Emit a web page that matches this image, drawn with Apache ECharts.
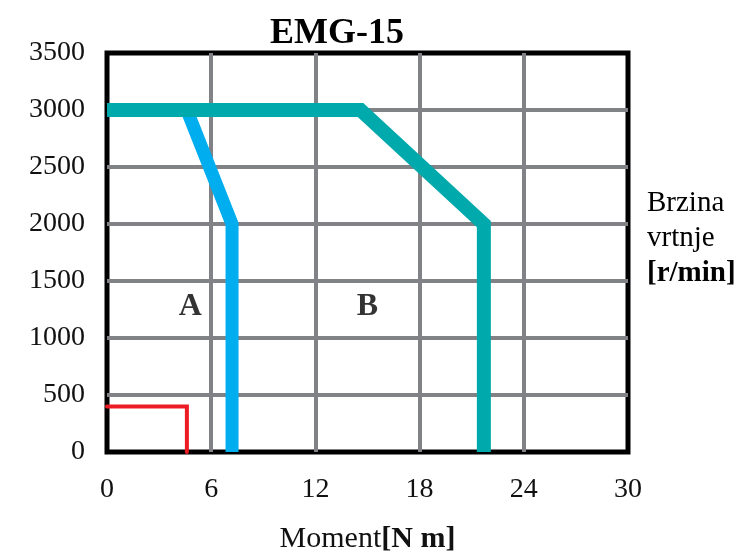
<!DOCTYPE html>
<html>
<head>
<meta charset="utf-8">
<script src="https://cdn.jsdelivr.net/npm/echarts@6/dist/echarts.min.js"></script>
<style>
  html, body { margin: 0; padding: 0; background: #fff; }
  #chart { width: 742px; height: 554px; }
</style>
</head>
<body>
<div id="chart"></div>
<script>
  // podaci ocitani sa slike
  var xTicks = [0, 6, 12, 18, 24, 30]
  var yTicks = [0, 500, 1000, 1500, 2000, 2500, 3000, 3500]
  var curveB = [[0, 3000], [14.6, 3000], [21.7, 2000], [21.7, 0]]
  var curveA = [[4.6, 3000], [7.2, 2000], [7.2, 0]]
  var curveRed = [[0, 400], [4.6, 400], [4.6, 0]]
  var regionLabels = [['A', 4.8, 1270], ['B', 15, 1270]]

  var serif = '"Liberation Serif", "DejaVu Serif", serif'
  var myChart = echarts.init(document.getElementById('chart'))

  var option = {
    animation: false,
    title: {
      text: 'EMG-15',
      left: 265,
      top: 11,
      textStyle: { fontFamily: serif, fontSize: 36, fontWeight: 'bold', color: '#000' }
    },
    grid: {
      left: 107, right: 114, top: 53, bottom: 102,
      outerBoundsMode: 'none',
      containLabel: false,
      show: true,
      borderColor: '#000',
      borderWidth: 5
    },
    xAxis: {
      type: 'value',
      min: xTicks[0],
      max: xTicks[xTicks.length - 1],
      interval: 6,
      axisLine: { show: false },
      axisTick: { show: false },
      splitLine: { showMinLine: false, showMaxLine: false, lineStyle: { color: '#808285', width: 4 } },
      axisLabel: { fontFamily: serif, fontSize: 28, color: '#111', margin: 24 },
      name: '{n|Moment}{b|[N m]}',
      nameLocation: 'middle',
      nameGap: 72,
      nameTextStyle: {
        rich: {
          n: { fontFamily: serif, fontSize: 30, color: '#111' },
          b: { fontFamily: serif, fontSize: 30, fontWeight: 'bold', color: '#111' }
        }
      }
    },
    yAxis: {
      type: 'value',
      min: yTicks[0],
      max: yTicks[yTicks.length - 1],
      interval: 500,
      axisLine: { show: false },
      axisTick: { show: false },
      splitLine: { showMinLine: false, showMaxLine: false, lineStyle: { color: '#808285', width: 4 } },
      axisLabel: {
        fontFamily: serif, fontSize: 28, color: '#111', margin: 22,
        formatter: function (v) { return String(v) }
      }
    },
    graphic: [{
      type: 'text',
      left: 647,
      top: 189,
      style: {
        text: '{n|Brzina}\n{n|vrtnje}\n{b|[r/min]}',
        rich: {
          n: { fontFamily: serif, fontSize: 29, color: '#111', lineHeight: 35 },
          b: { fontFamily: serif, fontSize: 29, fontWeight: 'bold', color: '#111', lineHeight: 35 }
        }
      }
    }],
    series: [{
      type: 'line',
      data: curveRed,
      symbol: 'none',
      clip: false,
      lineStyle: { color: '#ED1C24', width: 4, cap: 'round', join: 'miter' },
      z: 3
    }, {
      type: 'line',
      data: curveA,
      symbol: 'none',
      clip: false,
      lineStyle: { color: '#00AEEF', width: 13, join: 'miter' },
      z: 3
    }, {
      type: 'line',
      data: curveB,
      symbol: 'none',
      clip: false,
      lineStyle: { color: '#00A9AC', width: 14, join: 'miter' },
      z: 4
    }, {
      type: 'scatter',
      data: regionLabels.map(function (d) { return [d[1], d[2], d[0]] }),
      symbolSize: 0,
      label: {
        show: true,
        position: 'inside',
        formatter: function (p) { return p.data[2] },
        fontFamily: serif,
        fontSize: 32,
        fontWeight: 'bold',
        color: '#000'
      },
      z: 5
    }]
  }
  myChart.setOption(option, true)
</script>
</body>
</html>
